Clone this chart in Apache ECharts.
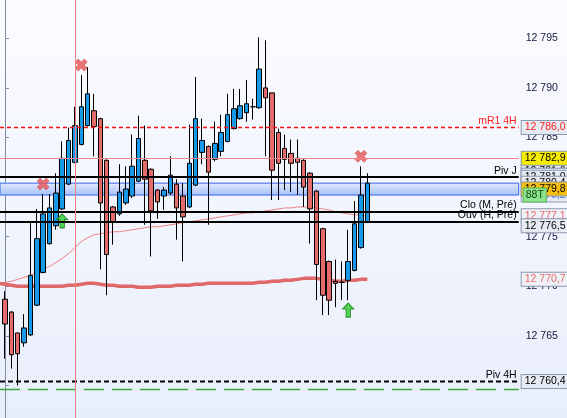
<!DOCTYPE html>
<html><head><meta charset="utf-8">
<script src="https://cdn.jsdelivr.net/npm/echarts@6/dist/echarts.min.js"></script>
<style>html,body{margin:0;padding:0;background:#fff}#c{width:567px;height:418px}</style>
</head><body><div id="c"></div>
<script>
// ---- data ----
const barIndex = [0,1,2,3,4,5,6,7,8,9,10,11,12,13,14,15,16,17,18,19,20,21,22,23,24,25,26,27,28,29,30,31,32,33,34,35,36,37,38,39,40,41,42,43,44,45,46,47,48,49,50,51,52,53,54,55,56,57];
const opens  = [12768.7,12767.4,12765.3,12764.3,12765.1,12768.1,12771.4,12774.3,12776.1,12777.8,12780.3,12782.5,12784.3,12786.2,12787.7,12786.9,12782.7,12778.0,12777.3,12778.4,12779.1,12780.6,12782.7,12781.8,12779.7,12779.1,12779.4,12780.3,12779.1,12778.0,12780.2,12783.5,12784.1,12782.8,12783.6,12784.6,12785.9,12786.9,12787.5,12788.1,12788.0,12790.0,12789.5,12785.5,12783.9,12783.4,12782.9,12782.7,12781.4,12779.6,12775.8,12772.5,12770.5,12770.4,12770.6,12771.6,12773.9,12776.5];
const closes = [12766.2,12763.1,12763.2,12765.8,12771.1,12774.8,12777.3,12777.9,12779.4,12782.9,12784.7,12786.2,12788.1,12789.4,12786.1,12778.4,12773.2,12776.5,12779.5,12779.8,12782.1,12784.9,12780.8,12777.6,12778.5,12779.7,12781.2,12777.9,12777.0,12782.4,12786.9,12784.7,12781.5,12784.4,12785.5,12787.3,12787.9,12788.2,12788.4,12788.1,12791.9,12789.0,12781.7,12782.4,12782.8,12782.4,12782.5,12780.0,12777.8,12772.2,12769.1,12768.6,12770.3,12770.4,12772.5,12776.3,12779.2,12780.4];
const lows   = [12762.7,12761.7,12760.0,12763.9,12765.0,12768.0,12771.3,12774.2,12775.7,12777.7,12780.2,12782.4,12784.2,12786.1,12783.1,12771.7,12769.1,12774.2,12777.1,12778.2,12778.9,12780.5,12776.2,12773.0,12776.8,12777.7,12779.2,12774.7,12772.5,12777.9,12780.1,12782.3,12776.2,12782.6,12783.1,12784.5,12785.8,12786.8,12786.6,12786.8,12787.9,12783.1,12778.7,12778.7,12779.7,12779.5,12779.2,12778.0,12774.3,12768.6,12767.1,12767.1,12767.9,12768.6,12768.6,12771.5,12773.8,12776.4];
const highs  = [12769.5,12767.5,12765.3,12767.2,12776.5,12777.8,12779.3,12779.3,12781.4,12784.6,12786.0,12788.1,12791.3,12792.1,12789.4,12787.0,12782.8,12778.1,12782.3,12782.1,12785.3,12787.2,12786.2,12781.9,12779.8,12780.0,12783.1,12780.8,12780.4,12786.3,12791.1,12786.9,12784.2,12786.6,12787.3,12789.4,12789.9,12789.9,12790.8,12788.9,12795.1,12794.8,12789.5,12785.9,12785.3,12784.8,12784.8,12782.8,12781.5,12779.7,12775.9,12772.6,12772.7,12772.5,12775.7,12778.6,12782.1,12781.4];

const maIndex = [-1,0,1,2,3,4,5,6,7,8,9,10,11,12,13,14,15,16,17,18,19,20,21,22,23,24,25,26,27,28,29,30,31,32,33,34,35,36,37,38,39,40,41,42,43,44,45,46,47,48,49,50,51,52,53,54,55,56,57];
const maFast = [12770.3,12770.4,12770.5,12770.7,12770.9,12771.1,12771.4,12771.7,12772.0,12772.4,12772.8,12773.3,12773.9,12774.5,12774.9,12775.2,12775.3,12775.4,12775.5,12775.5,12775.6,12775.7,12775.8,12775.9,12776.0,12776.0,12776.1,12776.2,12776.3,12776.4,12776.5,12776.6,12776.7,12776.8,12776.9,12777.0,12777.1,12777.2,12777.3,12777.4,12777.4,12777.5,12777.6,12777.7,12777.8,12777.9,12777.9,12778.0,12778.0,12778.0,12777.9,12777.8,12777.7,12777.5,12777.4,12777.3,12777.2,12777.2,12777.1];
const maSlow = [12770.3,12770.2,12770.1,12770.0,12770.0,12770.0,12770.0,12770.0,12770.0,12770.0,12770.0,12770.1,12770.1,12770.2,12770.3,12770.3,12770.2,12770.1,12770.1,12770.0,12770.0,12770.0,12769.9,12769.9,12769.9,12770.0,12770.0,12770.0,12770.1,12770.1,12770.1,12770.2,12770.2,12770.3,12770.3,12770.3,12770.3,12770.3,12770.3,12770.3,12770.3,12770.4,12770.4,12770.5,12770.5,12770.6,12770.6,12770.7,12770.8,12770.8,12770.8,12770.7,12770.6,12770.5,12770.5,12770.6,12770.6,12770.7,12770.7];

const levelValues = [12786.0, 12782.9, 12781.0, 12777.5, 12776.5, 12760.4, 12759.6];
const levelNames  = ['mR1 4H', '', 'Piv J', 'Clo (M, Pré)', 'Ouv (H, Pré)', 'Piv 4H', ''];
const bandRange = [12780.4, 12779.2];
const cursorBar = 11;
const sellSignals = [[12, 12792.3], [6, 12780.3], [56, 12783.1]];
const buySignals  = [[9, 12776.6], [54, 12767.6]];
// price tags on the right scale, in drawing order
const tagValues = [12786.0, 12781.6, 12781.2, 12781.0, 12780.4, 12779.2, 12779.8, 12782.9, 12777.1, 12776.5, 12770.7, 12760.4];
const tagKinds  = ['red', 'plain', 'plain', 'plain', 'plain', 'blue', 'orange', 'yellow', 'pink', 'plainLow', 'pink', 'plain'];
const volumeTag = {value: 12779.2, text: '88T'};
const yTicks = {min: 12755, max: 12800, step: 5};
const xRange = {min: -0.787, max: 80.82};

// ---- helpers ----
function fmt(v, dec) {
  const s = v.toFixed(dec).replace('.', ',');
  const parts = s.split(',');
  parts[0] = parts[0].replace(/\B(?=(\d{3})+(?!\d))/g, ' ');
  return parts.join(',');
}
const FONT = 'Liberation Sans, Arial, sans-serif';
const NOLINE = {color: 'rgba(0,0,0,0)', width: 1, type: 'solid'};

const candleData = barIndex.map((x, i) => [x, opens[i], closes[i], lows[i], highs[i]]);
const fastData = maIndex.map((x, i) => [x, maFast[i]]);
const slowData = maIndex.map((x, i) => [x, maSlow[i]]);

const levelStyles = [
  {line: {color: '#ff1010', width: 1.5, type: [4, 3]}, text: '#ff2020', asSeries: true},
  {line: {color: '#f38686', width: 1, type: 'solid'}, text: '#000'},
  {line: {color: '#000', width: 2, type: 'solid'}, text: '#000'},
  {line: {color: '#000', width: 2, type: 'solid'}, text: '#000'},
  {line: {color: '#000', width: 2, type: 'solid'}, text: '#000'},
  {line: {color: '#000', width: 2, type: [5, 3]}, text: '#000', asSeries: true},
  {line: {color: '#38a838', width: 1.5, type: [20, 8]}, text: '#000', asSeries: true}
];
// dashed levels drawn as two-point line series
const dashedSeries = [];
levelValues.forEach((v, i) => {
  if (levelStyles[i].asSeries) {
    dashedSeries.push({type: 'line', data: [[xRange.min, v], [xRange.max, v]], showSymbol: false,
      silent: true, z: 3, lineStyle: levelStyles[i].line});
  }
});
const levelMarks = levelValues.map((v, i) => ({
  yAxis: v,
  lineStyle: levelStyles[i].asSeries ? NOLINE : levelStyles[i].line,
  label: {
    show: !!levelNames[i], position: 'insideEndTop', formatter: levelNames[i],
    color: levelStyles[i].text, fontFamily: FONT, fontSize: 10.5, distance: [2, 1]
  }
}));
levelMarks.push({xAxis: cursorBar, lineStyle: {color: '#f08080', width: 1, type: 'solid'}, label: {show: false}});

const tagStyle = {
  red:      {color: '#ff2020', bg: '#e6ebf3'},
  plain:    {color: '#000',    bg: '#e6ebf3'},
  plainLow: {color: '#000',    bg: '#e6ebf3', dy: 4},
  blue:     {color: '#3f6ff0', bg: '#e6ebf3'},
  orange:   {color: '#000',    bg: '#f6bf12'},
  yellow:   {color: '#000',    bg: '#f6ec00'},
  pink:     {color: '#e86a6a', bg: '#eef1f6'}
};
function tagItem(v, text, st, extra) {
  return [
    {coord: [xRange.max - 0.3, v], lineStyle: NOLINE,
      label: Object.assign({
        show: true, position: 'end', distance: 3, formatter: text,
        color: st.color, backgroundColor: st.bg, borderColor: '#8a98ae', borderWidth: 1,
        padding: [1, 40, 0, 3], fontFamily: FONT, fontSize: 10.5, lineHeight: 12,
        offset: [0, st.dy || 0]
      }, extra || {})},
    {coord: [xRange.max, v]}
  ];
}
const tagMarks = tagValues.map((v, i) => tagItem(v, fmt(v, 1), tagStyle[tagKinds[i]]));
tagMarks.push(tagItem(volumeTag.value, volumeTag.text, {color: '#0b3b0b', bg: '#8ee48e'},
  {distance: 5, borderColor: '#5bb85b', padding: [1, 2, 0, 2]}));

const chart = echarts.init(document.getElementById('c'), null, {renderer: 'canvas'});
chart.setOption({
  animation: false,
  backgroundColor: {type: 'linear', x: 0, y: 0, x2: 0, y2: 1,
    colorStops: [{offset: 0, color: '#fbfcff'}, {offset: 1, color: '#e8eefb'}]},
  grid: {left: 0, right: 48.3, top: -11.3, bottom: -17.1, outerBoundsMode: 'none', containLabel: false},
  xAxis: {type: 'value', min: xRange.min, max: xRange.max, show: false},
  yAxis: {
    type: 'value', position: 'right', min: yTicks.min, max: yTicks.max, interval: yTicks.step,
    axisLine: {show: true, lineStyle: {color: '#7f8ea3', width: 1}},
    axisTick: {show: true, length: 4, inside: false, lineStyle: {color: '#7f8ea3'}},
    axisLabel: {margin: 7, color: '#16163c', fontFamily: FONT, fontSize: 10.5,
      formatter: v => fmt(v, 0)},
    splitLine: {show: false}
  },
  series: [
    {type: 'line', data: fastData, showSymbol: false, silent: true, z: 1,
      lineStyle: {color: '#ee8282', width: 1}},
    {type: 'line', data: slowData, showSymbol: false, silent: true, z: 1,
      lineStyle: {color: '#df6868', width: 3.5}},
    {type: 'line', data: [], silent: true, z: 1,
      markArea: {silent: true, data: [[{yAxis: bandRange[0]}, {yAxis: bandRange[1]}]],
        itemStyle: {color: {type: 'linear', x: 0, y: 0, x2: 0, y2: 1,
          colorStops: [{offset: 0, color: '#e3eafd'}, {offset: 1, color: '#a6bff8'}]},
          borderColor: '#3566ee', borderWidth: 1}}},
    {type: 'candlestick', data: candleData, encode: {x: 0, y: [1, 2, 3, 4]}, barWidth: 5, z: 2,
      itemStyle: {color: '#1799e8', color0: '#e36b6b', borderColor: '#000', borderColor0: '#000',
        borderColorDoji: '#000', borderWidth: 1}},
    ...dashedSeries,
    {type: 'line', data: [], silent: true, z: 3,
      markLine: {silent: true, symbol: ['none', 'none'], animation: false, data: levelMarks}},
    {type: 'scatter', data: sellSignals, z: 4, silent: true,
      symbol: 'path://M0,3 L3,0 L6,3 L9,0 L12,3 L9,6 L12,9 L9,12 L6,9 L3,12 L0,9 L3,6 Z',
      symbolSize: 12, itemStyle: {color: '#e65454', borderColor: '#c23c3c', borderWidth: 0.6}},
    {type: 'scatter', data: buySignals, z: 4, silent: true,
      symbol: 'path://M5,0 L10,5 L7,5 L7,12 L3,12 L3,5 L0,5 Z',
      symbolSize: [11, 14], itemStyle: {color: '#2ecc2e', borderColor: '#0f7a0f', borderWidth: 1}},
    {type: 'line', data: [], silent: true, z: 10,
      markLine: {silent: true, symbol: ['none', 'none'], animation: false, data: tagMarks}}
  ]
});
</script></body></html>
